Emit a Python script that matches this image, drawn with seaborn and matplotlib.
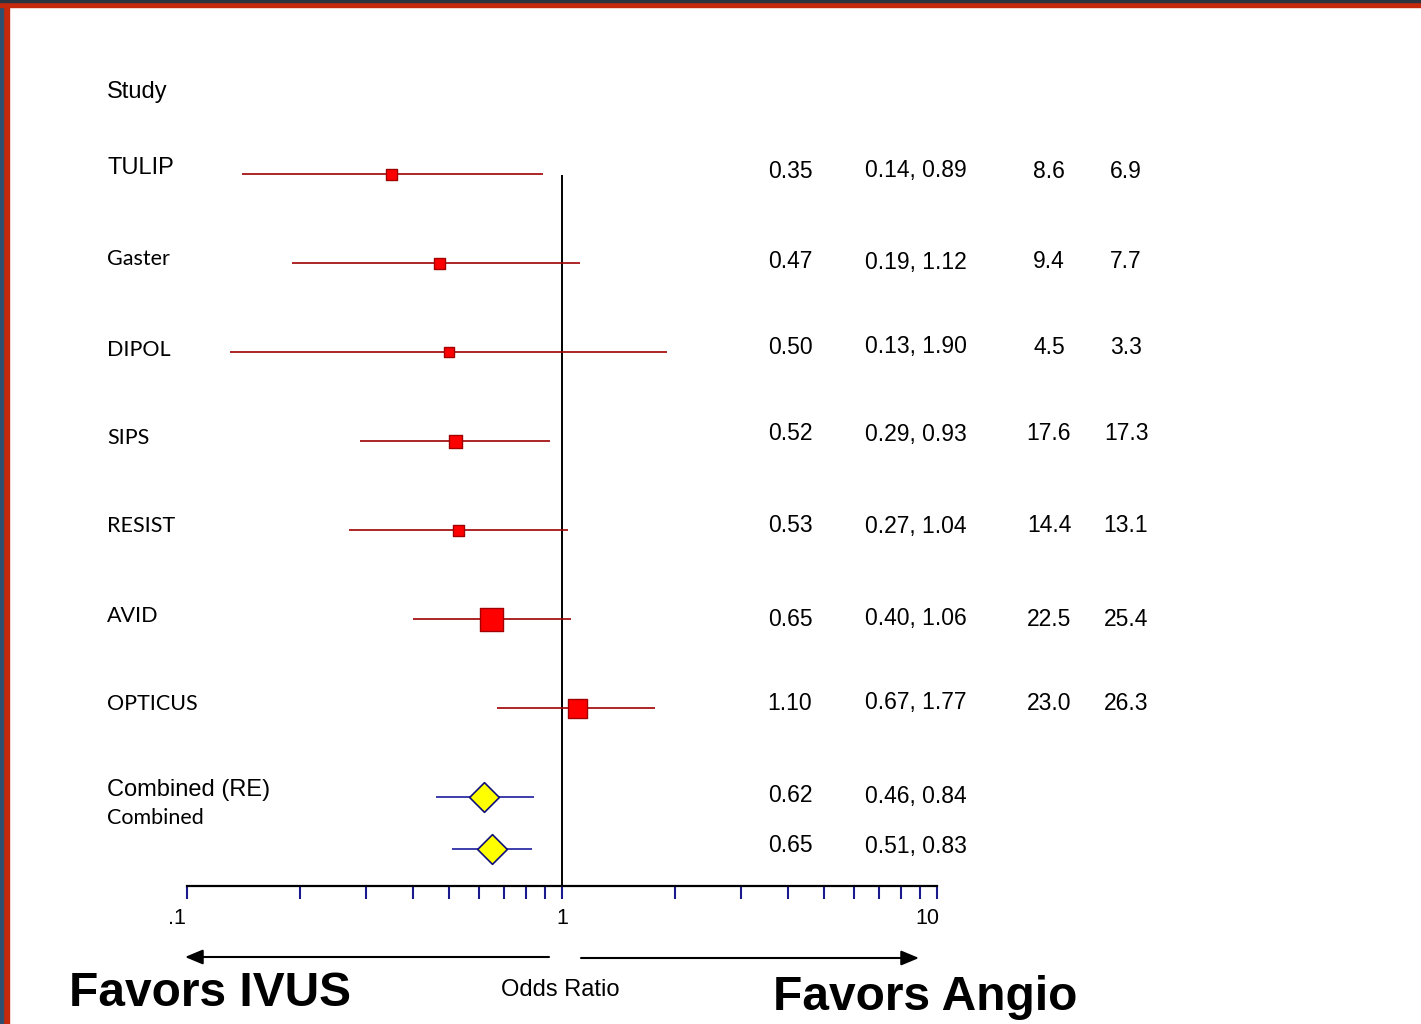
import matplotlib
matplotlib.use("Agg")
import numpy as np
import pandas as pd
import matplotlib.pyplot as plt
import seaborn as sns
from matplotlib.patches import Rectangle, FancyArrowPatch
from matplotlib.ticker import FixedLocator, NullFormatter
from matplotlib.transforms import ScaledTranslation

# ---------------- data ----------------
studies = ["TULIP", "Gaster", "DIPOL", "SIPS", "RESIST", "AVID", "OPTICUS"]
odds_ratio = [0.35, 0.47, 0.50, 0.52, 0.53, 0.65, 1.10]
ci_lower = [0.14, 0.19, 0.13, 0.29, 0.27, 0.40, 0.67]
ci_upper = [0.89, 1.12, 1.90, 0.93, 1.04, 1.06, 1.77]
weight_a = [8.6, 9.4, 4.5, 17.6, 14.4, 22.5, 23.0]
weight_b = [6.9, 7.7, 3.3, 17.3, 13.1, 25.4, 26.3]

pooled_labels = ["Combined (RE)", "Combined"]
pooled_or = [0.62, 0.65]
pooled_lower = [0.46, 0.51]
pooled_upper = [0.84, 0.83]

tick_values = [0.1, 1, 10]
tick_labels = [".1", "1", "10"]
header = "Study"
axis_title = "Odds Ratio"
left_note = "Favors IVUS"
right_note = "Favors Angio"

# ---------------- layout / style ----------------
W, H = 1421, 1024
study_y = [174, 263, 352, 441, 530, 619, 708]
pooled_y = [797, 849]
square_px = [11, 11, 10, 13, 11, 23, 19]
label_y = [168, 259, 350, 438, 526, 616, 704]
label_font = ["Liberation Sans", "Lato", "Lato", "Lato", "Lato", "Lato", "Lato"]
pooled_label_y = [790, 818]
pooled_label_font = ["Liberation Sans", "Lato"]
num_y = [171, 262, 347, 434, 526, 619, 703]
pooled_num_y = [796, 846]
col_x = [790, 916, 1049, 1126]

RED = "#FF0000"
DARKRED = "#A00000"
NAVY = "#1A1A8C"
PX2PT = 0.72
SANS = ["Liberation Sans", "DejaVu Sans"]

sns.set_style("white")
plt.rcParams["font.family"] = SANS
plt.rcParams["text.color"] = "black"
plt.rcParams["xtick.color"] = NAVY
plt.rcParams["xtick.labelcolor"] = "black"

fig = plt.figure(figsize=(W / 100, H / 100), dpi=100)
fig.patch.set_facecolor("white")

# frame strips
fig.patches.append(Rectangle((0, 0), 9 / W, 1, transform=fig.transFigure, color="#C4290C", zorder=0))
fig.patches.append(Rectangle((0, 0), 3 / W, 1, transform=fig.transFigure, color="#2E5070", zorder=1))
fig.patches.append(Rectangle((0, 1 - 7 / H), 1, 7 / H, transform=fig.transFigure, color="#C4290C", zorder=1))
fig.patches.append(Rectangle((0, 1 - 2 / H), 1, 2 / H, transform=fig.transFigure, color="#2A3440", zorder=2))

ax = fig.add_axes([187 / W, (H - 886) / H, 750 / W, (886 - 60) / H])
ax.set_xscale("log")
ax.set_xlim(0.1, 10)
ax.set_ylim(886, 60)
ax.patch.set_visible(False)

# reference line
ax.vlines(1, 175, 886, color="black", lw=1.4, zorder=2)

# study CIs and squares
ax.hlines(study_y, ci_lower, ci_upper, color=DARKRED, lw=1.2, zorder=2)
df = pd.DataFrame({"study": studies, "or": odds_ratio, "y": study_y})
sizes = {s: (p * PX2PT) ** 2 for s, p in zip(studies, square_px)}
sns.scatterplot(data=df, x="or", y="y", size="study", sizes=sizes, marker="s",
                color=RED, edgecolor=DARKRED, linewidth=1.0, legend=False, ax=ax, zorder=3)

# pooled diamonds
ax.hlines(pooled_y, pooled_lower, pooled_upper, color="#1C1CA0", lw=1.2, zorder=2)
dfp = pd.DataFrame({"or": pooled_or, "y": pooled_y})
sns.scatterplot(data=dfp, x="or", y="y", marker="D", s=(21 * PX2PT) ** 2,
                color="#FFFF00", edgecolor="#10107A", linewidth=1.2, legend=False, ax=ax, zorder=3)

# axis styling
for side in ["top", "right", "left"]:
    ax.spines[side].set_visible(False)
ax.spines["bottom"].set_color("black")
ax.spines["bottom"].set_linewidth(1.6)
ax.set_yticks([])
ax.set_xlabel("")
ax.set_ylabel("")
ax.xaxis.set_major_locator(FixedLocator(tick_values))
ax.set_xticklabels(tick_labels)
ax.xaxis.set_minor_locator(FixedLocator(list(np.arange(2, 10) / 10) + list(np.arange(2, 10))))
ax.xaxis.set_minor_formatter(NullFormatter())
ax.tick_params(axis="x", which="both", bottom=True, top=False, direction="out",
               length=9, width=1.5, color=NAVY, labelcolor="black", labelsize=15.5, pad=7)
for lab in ax.get_xticklabels():
    lab.set_fontfamily(SANS)
for lab, dx in zip(ax.get_xticklabels(), [-10, 0, -10]):
    lab.set_transform(lab.get_transform() + ScaledTranslation(dx / 100, 0, fig.dpi_scale_trans))


def ftext(x, y, s, **kw):
    kw.setdefault("family", SANS)
    kw.setdefault("color", "black")
    fig.text(x / W, 1 - y / H, s, **kw)


# left labels
ftext(107, 92, header, fontsize=17, va="center", ha="left")
for s, y, f in zip(studies, label_y, label_font):
    size = 17 if f == "Liberation Sans" else 15.5
    ftext(107, y, s, fontsize=size, family=f, va="center", ha="left")
for s, y, f in zip(pooled_labels, pooled_label_y, pooled_label_font):
    size = 17 if f == "Liberation Sans" else 15.5
    ftext(107, y, s, fontsize=size, family=f, va="center", ha="left")

# numeric columns
NUMSZ = 16.5
for o, lo, hi, wa, wb, y in zip(odds_ratio, ci_lower, ci_upper, weight_a, weight_b, num_y):
    ftext(col_x[0], y, f"{o:.2f}", fontsize=NUMSZ, va="center", ha="center")
    ftext(col_x[1], y, f"{lo:.2f}, {hi:.2f}", fontsize=NUMSZ, va="center", ha="center")
    ftext(col_x[2], y, f"{wa:.1f}", fontsize=NUMSZ, va="center", ha="center")
    ftext(col_x[3], y, f"{wb:.1f}", fontsize=NUMSZ, va="center", ha="center")
for o, lo, hi, y in zip(pooled_or, pooled_lower, pooled_upper, pooled_num_y):
    ftext(col_x[0], y, f"{o:.2f}", fontsize=NUMSZ, va="center", ha="center")
    ftext(col_x[1], y, f"{lo:.2f}, {hi:.2f}", fontsize=NUMSZ, va="center", ha="center")

# direction arrows
arrow_kw = dict(arrowstyle="-|>,head_length=0.6,head_width=0.25", lw=1.5, color="black",
                shrinkA=0, shrinkB=0, mutation_scale=18)
fig.add_artist(FancyArrowPatch((549, H - 957), (185, H - 957), transform=None, **arrow_kw))
fig.add_artist(FancyArrowPatch((581, H - 958), (919, H - 958), transform=None, **arrow_kw))

ftext(560, 990, axis_title, fontsize=17, va="center", ha="center")
ftext(210, 994, left_note, fontsize=34.5, fontweight="bold", va="center", ha="center")
ftext(925, 997, right_note, fontsize=34.5, fontweight="bold", va="center", ha="center")

fig.savefig("out.png", dpi=100, facecolor="white")
